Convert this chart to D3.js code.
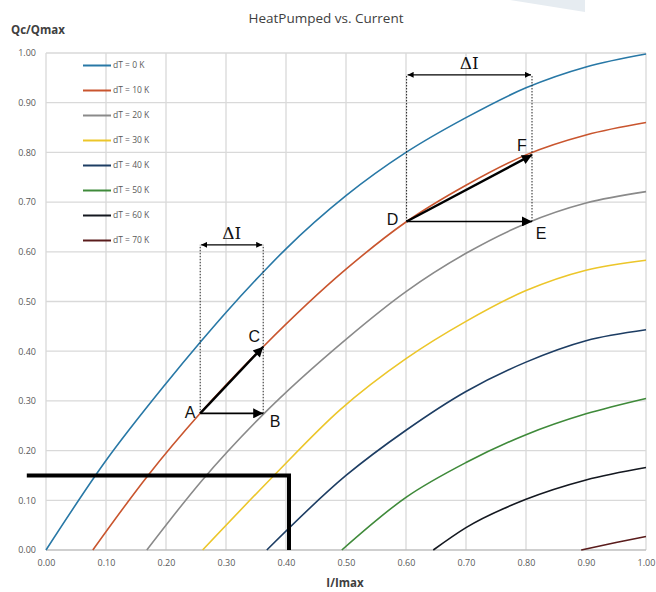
<!DOCTYPE html>
<html>
<head>
<meta charset="utf-8">
<script src="https://cdn.jsdelivr.net/npm/d3@7"></script>
<style>
    body { margin: 0; background: #fff; }
    svg text { font-family: 'Open Sans', sans-serif; }
</style>
</head>
<body>
<div id="chart"></div>
<script>
//Datos: [I/Imax, Qc/Qmax]
const dT0 = [[0,0],[0.1,0.18],[0.2,0.335],[0.257,0.418],[0.3,0.478],[0.365,0.563],[0.4,0.606],[0.5,0.713],[0.6,0.8],[0.7,0.87],[0.8,0.93],[0.9,0.972],[1.0,0.998]];
const dT10 = [[0.078,0],[0.17,0.15],[0.257,0.275],[0.362,0.409],[0.5,0.565],[0.6,0.66],[0.7,0.734],[0.8,0.795],[0.9,0.835],[1.0,0.86]];
const dT20 = [[0.168,0],[0.26,0.14],[0.362,0.273],[0.5,0.424],[0.6,0.52],[0.7,0.597],[0.8,0.657],[0.9,0.698],[1.0,0.721]];
const dT30 = [[0.261,0],[0.38,0.15],[0.49,0.282],[0.6,0.385],[0.7,0.46],[0.8,0.522],[0.9,0.563],[1.0,0.583]];
const dT40 = [[0.368,0],[0.5,0.15],[0.6,0.241],[0.7,0.319],[0.8,0.378],[0.9,0.421],[1.0,0.443]];
const dT50 = [[0.493,0],[0.6,0.106],[0.7,0.176],[0.8,0.232],[0.9,0.274],[1.0,0.305]];
const dT60 = [[0.6455,0],[0.7,0.045],[0.8,0.102],[0.9,0.141],[1.0,0.166]];
const dT70 = [[0.892,0],[0.95,0.015],[1.0,0.027]];

const seriesData = [dT0, dT10, dT20, dT30, dT40, dT50, dT60, dT70];
const seriesLabels = ['dT = 0 K','dT = 10 K','dT = 20 K','dT = 30 K','dT = 40 K','dT = 50 K','dT = 60 K','dT = 70 K'];
const seriesColors = ['#2878a6','#c9552e','#8a8a8a','#ecc62a','#1d3d63','#3f8a3a','#141820','#5a1c1c'];

const xTicks = [0,0.1,0.2,0.3,0.4,0.5,0.6,0.7,0.8,0.9,1.0];
const yTicks = [0,0.1,0.2,0.3,0.4,0.5,0.6,0.7,0.8,0.9,1.0];

//Puntos A-F
const pointNames = ['A','B','C','D','E','F'];
const pointI = [0.257,0.362,0.362,0.601,0.81,0.81];
const pointQ = [0.275,0.275,0.409,0.661,0.661,0.795];
//Flechas (índices de pointNames)
const arrowFrom = [0,0,3,3];
const arrowTo = [1,2,4,5];
//Cajas ΔI: izquierda, derecha, altura
const boxLeft = [0.257,0.601];
const boxRight = [0.362,0.81];
const boxTop = [0.614,0.956];
//Línea gruesa en L
const lineI = [-0.032,0.405,0.405];
const lineQ = [0.15,0.15,0];

let width = 656, height = 592;
let margin = {top: 53, right: 10, bottom: 42, left: 46};

let svg = d3.select('#chart')
    .append('svg')
    .attr('width', width)
    .attr('height', height);

//Marca de agua
svg.append('polygon')
    .attr('points', '510,0 585,0 585,12')
    .attr('fill', '#e6ecf1');

let x = d3.scaleLinear().domain([0, 1]).range([margin.left, width - margin.right]);
let y = d3.scaleLinear().domain([0, 1]).range([height - margin.bottom, margin.top]);

//Rejilla
svg.append('g')
    .selectAll('line')
    .data(xTicks)
    .enter()
    .append('line')
    .attr('x1', d => x(d)).attr('x2', d => x(d))
    .attr('y1', y(0)).attr('y2', y(1))
    .attr('stroke', '#d9d9d9')
    .attr('stroke-width', 1.3);

svg.append('g')
    .selectAll('line')
    .data(yTicks)
    .enter()
    .append('line')
    .attr('x1', x(0)).attr('x2', x(1))
    .attr('y1', d => y(d)).attr('y2', d => y(d))
    .attr('stroke', d => d == 0 ? '#bfbfbf' : '#d9d9d9')
    .attr('stroke-width', 1.3);

//Ejes
let xAxis = function(g) {
    g.call(d3.axisBottom(x).tickValues(xTicks).tickFormat(d3.format('.2f')).tickSize(0).tickPadding(10));
    g.call(function(g){g.select('.domain').remove()});
    g.selectAll('text').attr('fill', '#595959').style('font-size', '9px');
}
svg.append('g')
    .attr('transform', 'translate(0,' + y(0) + ')')
    .call(xAxis);

let yAxis = function(g) {
    g.call(d3.axisLeft(y).tickValues(yTicks).tickFormat(d3.format('.2f')).tickSize(0).tickPadding(10));
    g.call(function(g){g.select('.domain').remove()});
    g.selectAll('text').attr('fill', '#595959').style('font-size', '9px');
}
svg.append('g')
    .attr('transform', 'translate(' + x(0) + ',0)')
    .call(yAxis);

//Curvas
let line = d3.line()
    .x(d => x(d[0]))
    .y(d => y(d[1]))
    .curve(d3.curveMonotoneX);

svg.append('g')
    .selectAll('path')
    .data(seriesData)
    .enter()
    .append('path')
    .attr('d', line)
    .attr('fill', 'none')
    .attr('stroke', (d,i) => seriesColors[i])
    .attr('stroke-width', 1.6);

//Leyenda
let legend = svg.append('g')
    .selectAll('g')
    .data(seriesLabels)
    .enter()
    .append('g')
    .attr('transform', (d,i) => 'translate(83,' + (65.5 + i * 25) + ')');

legend.append('line')
    .attr('x1', 0).attr('x2', 28)
    .attr('stroke', (d,i) => seriesColors[i])
    .attr('stroke-width', 2);

legend.append('text')
    .attr('x', 30)
    .attr('dy', '0.35em')
    .attr('fill', '#595959')
    .style('font-size', '8.5px')
    .text(d => d);

//Línea gruesa
svg.append('path')
    .attr('d', d3.line().x((d,i) => x(lineI[i])).y((d,i) => y(lineQ[i]))(lineI))
    .attr('fill', 'none')
    .attr('stroke', '#000')
    .attr('stroke-width', 4);

//Flechas
let defs = svg.append('defs');
defs.append('marker')
    .attr('id', 'head')
    .attr('viewBox', '0 0 10 10')
    .attr('refX', 10).attr('refY', 5)
    .attr('markerWidth', 6).attr('markerHeight', 6)
    .attr('markerUnits', 'userSpaceOnUse')
    .attr('orient', 'auto-start-reverse')
    .append('path')
    .attr('d', 'M0,0 L10,5 L0,10 z')
    .attr('fill', '#000');

defs.append('marker')
    .attr('id', 'headBig')
    .attr('viewBox', '0 0 10 10')
    .attr('refX', 10).attr('refY', 5)
    .attr('markerWidth', 14).attr('markerHeight', 10)
    .attr('markerUnits', 'userSpaceOnUse')
    .attr('orient', 'auto')
    .append('path')
    .attr('d', 'M0,0 L10,5 L0,10 z')
    .attr('fill', '#000');

//Cajas ΔI punteadas
let boxes = svg.append('g')
    .selectAll('g')
    .data(boxLeft)
    .enter()
    .append('g');

boxes.append('line')
    .attr('x1', d => x(d)).attr('x2', d => x(d))
    .attr('y1', (d,i) => y(pointQ[arrowFrom[i * 2]])).attr('y2', (d,i) => y(boxTop[i]));
boxes.append('line')
    .attr('x1', (d,i) => x(boxRight[i])).attr('x2', (d,i) => x(boxRight[i]))
    .attr('y1', (d,i) => y(pointQ[arrowTo[i * 2]])).attr('y2', (d,i) => y(boxTop[i]));
boxes.selectAll('line')
    .attr('stroke', '#222')
    .attr('stroke-width', 1)
    .attr('stroke-dasharray', '1.5,1.5');

boxes.append('line')
    .attr('x1', d => x(d) + 1).attr('x2', (d,i) => x(boxRight[i]) - 1)
    .attr('y1', (d,i) => y(boxTop[i])).attr('y2', (d,i) => y(boxTop[i]))
    .attr('stroke', '#000')
    .attr('stroke-width', 1.3)
    .attr('marker-start', 'url(#head)')
    .attr('marker-end', 'url(#head)');

boxes.append('text')
    .attr('x', (d,i) => (x(d) + x(boxRight[i])) / 2)
    .attr('y', (d,i) => y(boxTop[i]) - 6)
    .attr('text-anchor', 'middle')
    .style('font-family', "'DejaVu Serif', serif")
    .style('font-size', '17px')
    .attr('fill', '#111')
    .text('ΔI');

svg.append('g')
    .selectAll('line')
    .data(arrowFrom)
    .enter()
    .append('line')
    .attr('x1', d => x(pointI[d]))
    .attr('y1', d => y(pointQ[d]))
    .attr('x2', (d,i) => x(pointI[arrowTo[i]]))
    .attr('y2', (d,i) => y(pointQ[arrowTo[i]]))
    .attr('stroke', '#000')
    .attr('stroke-width', (d,i) => i % 2 == 0 ? 1.6 : 2.4)
    .attr('marker-end', 'url(#headBig)');

//Etiquetas A-F
let labelDx = [-10,12,-9,-14,9,-10];
let labelDy = [-1,8,-10,-2,12,-9];
svg.append('g')
    .selectAll('text')
    .data(pointNames)
    .enter()
    .append('text')
    .attr('x', (d,i) => x(pointI[i]) + labelDx[i])
    .attr('y', (d,i) => y(pointQ[i]) + labelDy[i])
    .attr('text-anchor', 'middle')
    .attr('dy', '0.35em')
    .style('font-family', "'Liberation Sans', Arial, sans-serif")
    .style('font-size', '16px')
    .attr('fill', '#111')
    .text(d => d);

//Títulos
svg.append('text')
    .attr('x', 326).attr('y', 23)
    .attr('text-anchor', 'middle')
    .attr('fill', '#404040')
    .style('font-size', '13.5px')
    .text('HeatPumped vs. Current');

svg.append('text')
    .attr('x', 11).attr('y', 34)
    .attr('fill', '#404040')
    .style('font-size', '11.5px')
    .style('font-weight', '700')
    .text('Qc/Qmax');

svg.append('text')
    .attr('x', 345).attr('y', 587)
    .attr('text-anchor', 'middle')
    .attr('fill', '#404040')
    .style('font-size', '11.5px')
    .style('font-weight', '700')
    .text('I/Imax');
</script>
</body>
</html>
